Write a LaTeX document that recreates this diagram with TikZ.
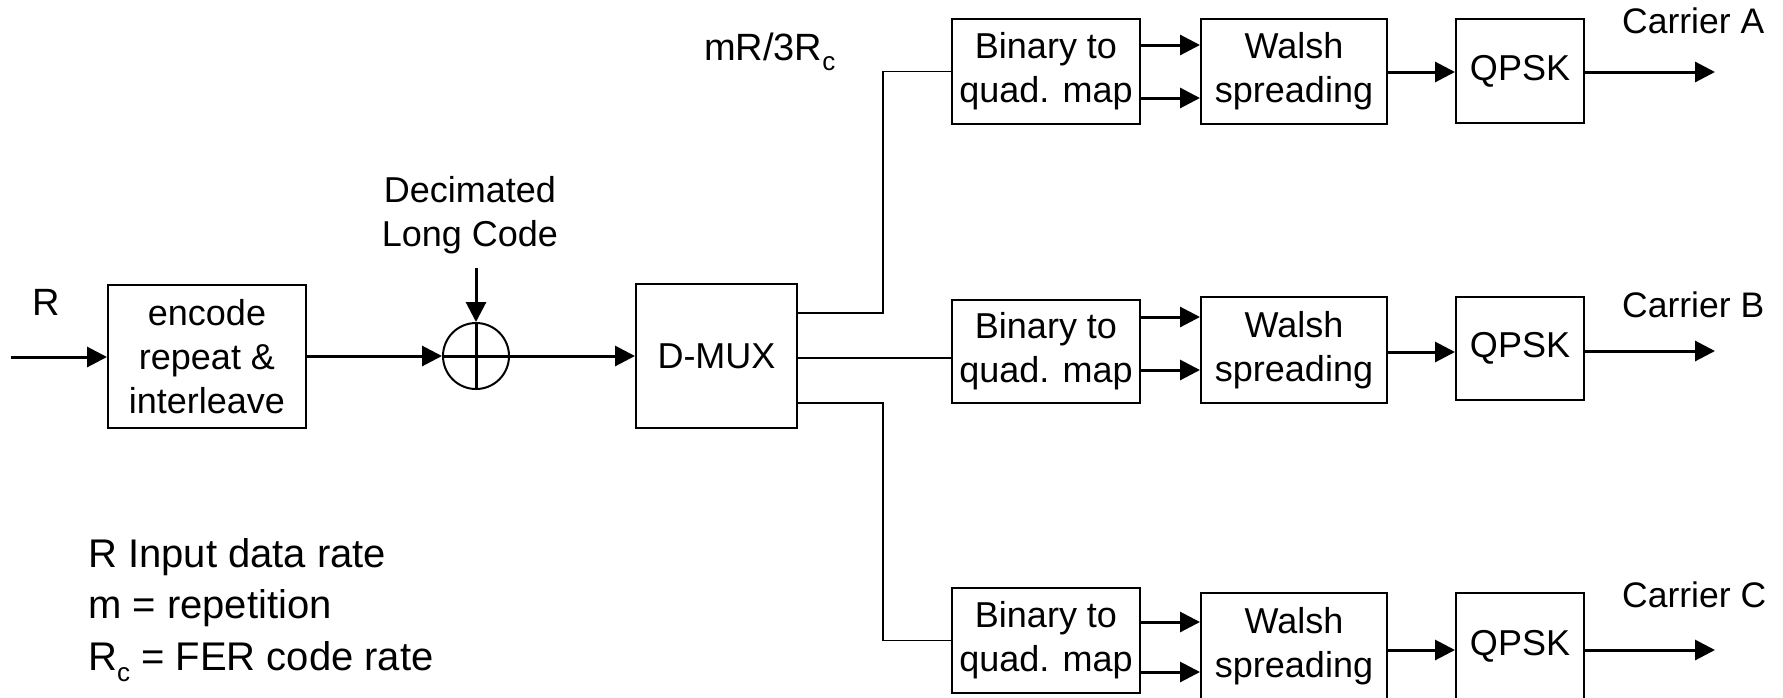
\documentclass[tikz,border=0pt]{standalone}
\usepackage{fontspec}
\setmainfont{Liberation Sans}
\usetikzlibrary{arrows.meta}
\newcommand{\subc}{\raisebox{-0.28em}{\fontsize{26}{26}\selectfont c}}
\begin{document}
\begin{tikzpicture}[x=1pt,y=-1pt,
  box/.style={draw, line width=2pt, align=center, inner sep=0pt, font=\fontsize{36}{44}\selectfont},
  arr/.style={line width=3pt, -{Triangle[length=20pt,width=20pt]}},
  thinline/.style={line width=1.5pt},
  lbl/.style={font=\fontsize{36}{44}\selectfont, inner sep=0pt}]
\useasboundingbox (0,0) rectangle (1783,697);
% blocks
\node[box, minimum width=198pt, minimum height=143pt] (enc) at (207,356.5) {encode\\repeat \&\\interleave};
\node[draw, circle, line width=2pt, minimum size=66pt, inner sep=0pt] (xor) at (476,356) {};
\node[box, minimum width=161pt, minimum height=144pt] (dmux) at (716.5,356) {D-MUX};
\node[box, minimum width=188pt, minimum height=105pt] (binA) at (1046,71.5) {Binary to\\quad. map};
\node[box, minimum width=186pt, minimum height=105pt] (walA) at (1294,71.5) {Walsh\\spreading};
\node[box, minimum width=128pt, minimum height=104pt] (qA) at (1520,71) {QPSK};
\node[box, minimum width=188pt, minimum height=103pt] (binB) at (1046,351.5) {Binary to\\quad. map};
\node[box, minimum width=186pt, minimum height=106pt] (walB) at (1294,350) {Walsh\\spreading};
\node[box, minimum width=128pt, minimum height=103pt] (qB) at (1520,348.5) {QPSK};
\node[box, minimum width=188pt, minimum height=105pt] (binC) at (1046,640.5) {Binary to\\quad. map};
\node[box, minimum width=186pt, minimum height=107pt] (walC) at (1294,646.5) {Walsh\\spreading};
\node[box, minimum width=128pt, minimum height=107pt] (qC) at (1520,646.5) {QPSK};
% labels
\node[lbl, anchor=base, font=\fontsize{38}{44}\selectfont] (rlab) at (46,315) {R};
\node[lbl, anchor=base] (dec1) at (470,202) {Decimated};
\node[lbl, anchor=base] (dec2) at (470,246) {Long Code};
\node[lbl, anchor=base west, font=\fontsize{38}{44}\selectfont] (rate) at (704,60) {mR/3R\subc};
\node[lbl, anchor=base west, font=\fontsize{35.5}{43}\selectfont] (carA) at (1622,33) {Carrier A};
\node[lbl, anchor=base west, font=\fontsize{35.5}{43}\selectfont] (carB) at (1622,317) {Carrier B};
\node[lbl, anchor=base west, font=\fontsize{35.5}{43}\selectfont] (carC) at (1622,607) {Carrier C};
\node[lbl, anchor=base west, font=\fontsize{40}{48}\selectfont] (leg1) at (88,567) {R Input data rate};
\node[lbl, anchor=base west, font=\fontsize{40}{48}\selectfont] (leg2) at (88,618) {m = repetition};
\node[lbl, anchor=base west, font=\fontsize{40}{48}\selectfont] (leg3) at (88,670) {R\subc{} = FER code rate};
% coordinates
\coordinate (in) at (11,357);
\coordinate (dlc) at (476,268);
\coordinate (jx) at (883,0);
\coordinate (outA) at (1715,72);
\coordinate (outB) at (1715,351);
\coordinate (outC) at (1715,650);
% main chain
\draw[arr] (in) -- (enc.west |- in);
\draw[arr] (enc.east |- xor.west) -- (xor.west);
\draw[arr] (dlc) -- (xor.north);
\draw[line width=3pt] (xor.north) -- (xor.south) (xor.west) -- (xor.east);
\draw[arr] (xor.east) -- (dmux.west |- xor.east);
% demux branches
\draw[thinline] (dmux.east |- 0,313) -- (jx |- 0,313) |- (binA.west);
\draw[thinline] (dmux.east |- 0,358) -- (binB.west |- 0,358);
\draw[thinline] (dmux.east |- 0,403) -- (jx |- 0,403) |- (binC.west);
% row A
\draw[arr] (binA.east |- 0,45) -- (walA.west |- 0,45);
\draw[arr] (binA.east |- 0,98) -- (walA.west |- 0,98);
\draw[arr] (walA.east |- 0,72) -- (qA.west |- 0,72);
\draw[arr] (qA.east |- outA) -- (outA);
% row B
\draw[arr] (binB.east |- 0,317) -- (walB.west |- 0,317);
\draw[arr] (binB.east |- 0,370) -- (walB.west |- 0,370);
\draw[arr] (walB.east |- 0,352) -- (qB.west |- 0,352);
\draw[arr] (qB.east |- outB) -- (outB);
% row C
\draw[arr] (binC.east |- 0,622) -- (walC.west |- 0,622);
\draw[arr] (binC.east |- 0,672) -- (walC.west |- 0,672);
\draw[arr] (walC.east |- 0,650) -- (qC.west |- 0,650);
\draw[arr] (qC.east |- outC) -- (outC);
\end{tikzpicture}
\end{document}
